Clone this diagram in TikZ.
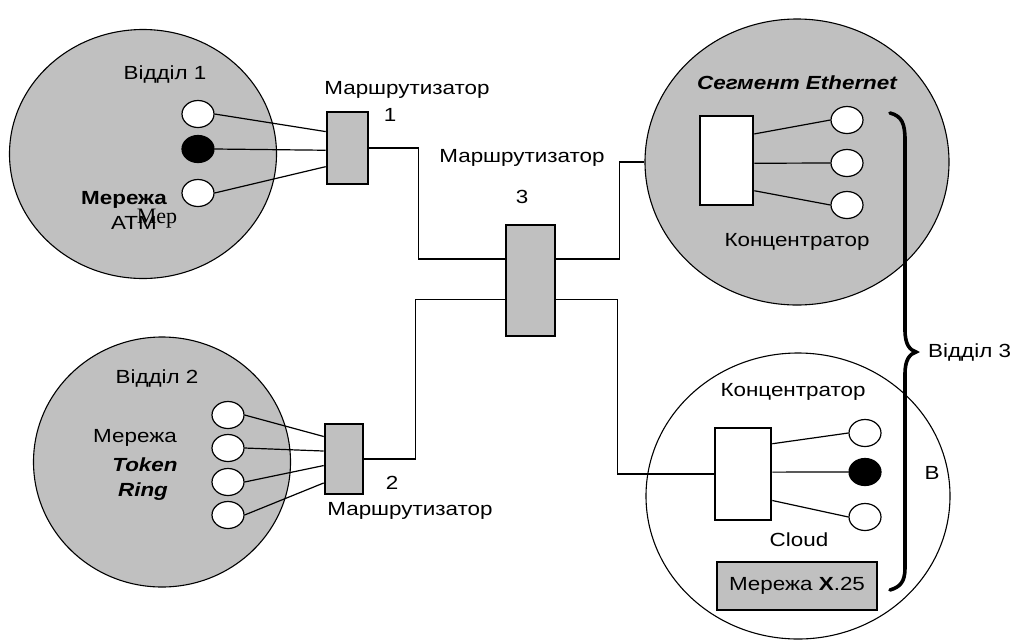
\documentclass[tikz,border=0pt]{standalone}
\usepackage{fontspec}
\setmainfont{Liberation Sans}[FakeStretch=1.18]
\newfontfamily\serifface{Liberation Serif}
\usetikzlibrary{shapes.geometric,calc}
\begin{document}
\begin{tikzpicture}[x=1pt,y=-1pt,
  font=\fontsize{19}{22}\selectfont,
  zone/.style={ellipse,draw=black,line width=1.1pt,fill=zonegray,inner sep=0pt},
  station/.style={ellipse,draw=black,line width=1.2pt,fill=white,minimum width=32pt,minimum height=27pt,inner sep=0pt},
  blackstation/.style={station,fill=black},
  router/.style={rectangle,draw=black,line width=2.6pt,fill=zonegray,inner sep=0pt},
  hub/.style={rectangle,draw=black,line width=2.6pt,fill=white,inner sep=0pt},
  wire/.style={draw=black,line width=1.2pt},
  lbl/.style={inner sep=0pt,anchor=center}]
\definecolor{zonegray}{RGB}{192,192,192}
\useasboundingbox (0,0) rectangle (1014,641);

% department zones
\node[zone,minimum width=267pt,minimum height=249pt] (c1) at (143,154) {};
\node[zone,minimum width=257pt,minimum height=250pt] (c2) at (162,462) {};
\node[zone,minimum width=304pt,minimum height=286pt] (c3) at (797,162) {};
\node[zone,fill=white,minimum width=304pt,minimum height=286pt] (c4) at (798,496) {};

% routers and hubs
\node[router,minimum width=41pt,minimum height=72pt] (r1) at (347.5,148) {};
\node[router,minimum width=38pt,minimum height=70pt] (r2) at (344,459) {};
\node[router,minimum width=49pt,minimum height=111pt] (r3) at (530.5,280.5) {};
\node[hub,minimum width=53pt,minimum height=89pt] (h3) at (726.5,160.5) {};
\node[hub,minimum width=56pt,minimum height=92pt] (h4) at (743,474) {};

% workstations of department 1
\node[station] (a1) at (198,114) {};
\node[blackstation] (a2) at (198,149) {};
\node[station] (a3) at (198,193) {};
% workstations of department 2
\node[station] (b1) at (228,415) {};
\node[station] (b2) at (228,448) {};
\node[station] (b3) at (228,482) {};
\node[station] (b4) at (228,515) {};
% Ethernet segment stations
\node[station] (e1) at (847,120) {};
\node[station] (e2) at (847,163) {};
\node[station] (e3) at (847,205) {};
% X.25 cloud stations
\node[station] (x1) at (865,433) {};
\node[blackstation] (x2) at (865,472) {};
\node[station] (x3) at (865,517) {};

% station links
\draw[wire] (a1.east) -- ($(r1.north west)!0.28!(r1.south west)$);
\draw[wire] (a2.east) -- ($(r1.north west)!0.53!(r1.south west)$);
\draw[wire] (a3.east) -- ($(r1.north west)!0.75!(r1.south west)$);
\draw[wire] (b1.east) -- ($(r2.north west)!0.19!(r2.south west)$);
\draw[wire] (b2.east) -- ($(r2.north west)!0.39!(r2.south west)$);
\draw[wire] (b3.east) -- ($(r2.north west)!0.59!(r2.south west)$);
\draw[wire] (b4.east) -- ($(r2.north west)!0.83!(r2.south west)$);
\draw[wire] ($(h3.north east)!0.21!(h3.south east)$) -- (e1.west);
\draw[wire] ($(h3.north east)!0.53!(h3.south east)$) -- (e2.west);
\draw[wire] ($(h3.north east)!0.83!(h3.south east)$) -- (e3.west);
\draw[wire] ($(h4.north east)!0.18!(h4.south east)$) -- (x1.west);
\draw[wire] ($(h4.north east)!0.48!(h4.south east)$) -- (x2.west);
\draw[wire] ($(h4.north east)!0.78!(h4.south east)$) -- (x3.west);

% backbone links
\coordinate (r3w1) at ($(r3.north west)!0.31!(r3.south west)$);
\coordinate (r3w2) at ($(r3.north west)!0.67!(r3.south west)$);
\coordinate (r3e1) at ($(r3.north east)!0.31!(r3.south east)$);
\coordinate (r3e2) at ($(r3.north east)!0.67!(r3.south east)$);
\draw[wire] (r1.east) -- ++(49,0) |- (r3w1);
\draw[wire] (r3w2) -- ++(-89,0) |- (r2.east);
\draw[wire] (r3e1) -- ++(63,0) |- (c3.west);
\draw[wire] (r3e2) -- ++(61,0) |- (h4.west);

% department 3 brace
\draw[line width=3.6pt,line cap=round] (890,113) .. controls (902,116) and (905,124) .. (905,140)
  -- (905,330) .. controls (905,345) and (910,350) .. (916,352)
  .. controls (910,354) and (905,359) .. (905,374)
  -- (905,568) .. controls (905,582) and (900,587) .. (890,590);

% labels
\node[lbl] (t1) at (165,75) {Відділ 1};
\node[lbl] (t2) at (124,200) {\bfseries Мережа};
\node[lbl] (t3) at (134,223) {АТМ};
\node[lbl,font=\serifface\fontsize{22}{24}\selectfont] (t4) at (157,219) {Мер};
\node[lbl] (t5) at (407,90) {Маршрутизатор};
\node[lbl] (t6) at (390,115) {1};
\node[lbl] (t7) at (522,158) {Маршрутизатор};
\node[lbl] (t8) at (522,197) {3};
\node[lbl] (t9) at (157,378) {Відділ 2};
\node[lbl] (t10) at (135,438) {Мережа};
\node[lbl] (t11) at (145,465) {\bfseries\itshape Token};
\node[lbl] (t12) at (143,492) {\bfseries\itshape Ring};
\node[lbl] (t13) at (392,483) {2};
\node[lbl] (t14) at (410,511) {Маршрутизатор};
\node[lbl] (t15) at (797,83) {\bfseries\itshape Сегмент Ethernet};
\node[lbl] (t16) at (797,242) {Концентратор};
\node[lbl] (t17) at (793,392) {Концентратор};
\node[lbl] (t18) at (799,540) {Cloud};
\node[rectangle,draw=black,line width=1.1pt,fill=zonegray,minimum width=160pt,minimum height=48pt,inner sep=0pt] (x25) at (797,586) {Мережа \textbf{X}.25};
\node[lbl,anchor=west] (t19) at (928,352) {Відділ 3};
\node[lbl] (t20) at (932,473) {В};
\end{tikzpicture}
\end{document}
